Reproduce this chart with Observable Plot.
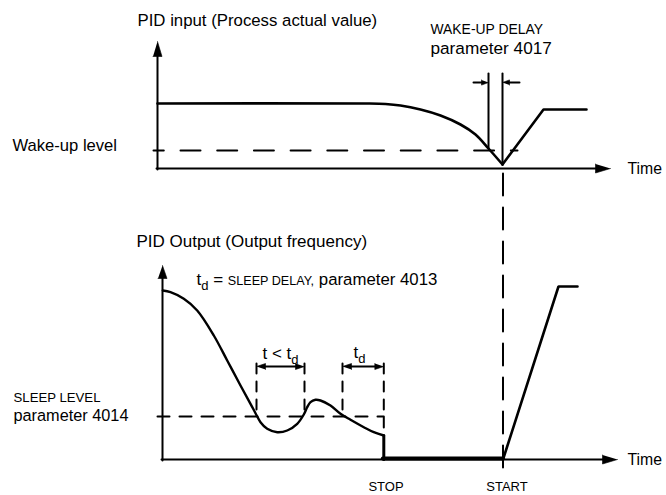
<!DOCTYPE html>
<html><head><meta charset="utf-8">
<script src="https://cdn.jsdelivr.net/npm/d3@7"></script>
<script src="https://cdn.jsdelivr.net/npm/@observablehq/plot@0.6"></script>
<style>body{margin:0;background:#fff}svg{display:block}</style>
</head><body><div id="chart"></div>
<script>
// ---- Data (figure frame: x = time position, y = level position, both in figure units) ----
// Upper panel: PID input (process actual value)
const pidInputX = [157, 365, 385, 400, 420, 440, 460, 475, 488, 502];
const pidInputY = [103, 103, 103.5, 105, 109, 115, 124, 134, 148, 164];
const pidInputRecoveryX = [502, 543, 586];
const pidInputRecoveryY = [164, 109, 109];
const wakeUpLevel = 150;
const wakeUpDelayStart = 488, wakeUpDelayEnd = 502;

// Lower panel: PID output (output frequency)
const pidOutputX = [162.3,170,183.3,196.7,213.3,226.7,240,250,255,260,266.7,276.7,286.7,296.7,303.3,306.7,310,315,320,330,340,350,363.3,373.3,383.3];
const pidOutputY = [290,291.7,298.3,310,335,360,385,403.3,412.7,421.7,428.3,431.7,430,423.3,414,406.7,401.7,399.3,400,405,413.3,419.3,426.7,431.7,435];
const sleepLevel = 416;
const stopTime = 383.3, startTime = 502.5, rampEndTime = 558, rampEndLevel = 286, holdEndTime = 577;
const delayWindows = [[256, 304], [342, 383.3]];   // t < td, td

// Axis frames
const topPanel = {x0: 157, y0: 168, yTop: 41, xEnd: 610};
const botPanel = {x0: 162, y0: 459, yTop: 265, xEnd: 617};

// Texts
const texts = ["PID input (Process actual value)", "WAKE-UP DELAY", "parameter 4017", "Wake-up level", "Time",
               "PID Output (Output frequency)", "SLEEP LEVEL", "parameter 4014", "Time", "STOP", "START"];

// ---- helpers ----
const rows = (id, xs, ys) => xs.map((x, i) => ({id, x, y: ys[i]}));
const seg = (id, a, b) => [{id, x: a[0], y: a[1]}, {id, x: b[0], y: b[1]}];
function head(id, tip, dir, len, half) {
  const [tx, ty] = tip, [dx, dy] = dir;
  const bx = tx - dx * len, by = ty - dy * len, px = -dy, py = dx;
  return [[tx, ty], [bx + px * half, by + py * half], [bx - px * half, by - py * half]].map(([x, y]) => ({id, x, y}));
}
const FONT = "Liberation Sans, Arial, Helvetica, sans-serif";
const ctx = document.createElement("canvas").getContext("2d");
function measure(s, size) { ctx.font = `${size}px "Liberation Sans", Arial, sans-serif`; return ctx.measureText(s).width; }
function run(x0, base, parts) {
  let x = x0; const out = [];
  for (const [s, size, shift = 0] of parts) {
    const lead = s.match(/^\s*/)[0];
    out.push({text: s.trim(), x: x + measure(lead, size), y: base + shift, size});
    x += measure(s, size);
  }
  return out;
}

// ---- geometry built from data ----
const axisLines = [
  ...seg("tY", [topPanel.x0, topPanel.y0 + 1], [topPanel.x0, topPanel.yTop + 12]),
  ...seg("tX", [topPanel.x0 - 1, topPanel.y0], [topPanel.xEnd - 12, topPanel.y0]),
  ...seg("bY", [botPanel.x0, botPanel.y0 + 1], [botPanel.x0, botPanel.yTop + 10]),
  ...seg("bX", [botPanel.x0 - 1, botPanel.y0], [botPanel.xEnd - 12, botPanel.y0])
];
const heads = [
  ...head("h1", [topPanel.x0, topPanel.yTop], [0, -1], 15, 4.5),
  ...head("h2", [topPanel.xEnd, topPanel.y0], [1, 0], 15, 4.5),
  ...head("h3", [botPanel.x0, botPanel.yTop], [0, -1], 13, 4.5),
  ...head("h4", [botPanel.xEnd, botPanel.y0], [1, 0], 15, 4.5),
  ...head("h5", [wakeUpDelayStart, 82], [1, 0], 7, 2.6),
  ...head("h6", [wakeUpDelayEnd, 82], [-1, 0], 7, 2.6),
  ...delayWindows.flatMap(([a, b], i) => [
    ...head("d" + i + "a", [a, 366], [-1, 0], 9, 3),
    ...head("d" + i + "b", [b, 366], [1, 0], 9, 3)])
];
const thinSolid = [
  ...seg("w1", [wakeUpDelayStart, 73], [wakeUpDelayStart, wakeUpLevel - 2]),
  ...seg("w2", [wakeUpDelayEnd, 73], [wakeUpDelayEnd, 164]),
  ...seg("w3", [473, 82], [wakeUpDelayStart - 5, 82]),
  ...seg("w4", [519, 82], [wakeUpDelayEnd + 5, 82]),
  ...delayWindows.flatMap(([a, b], i) => seg("dw" + i, [a + 6, 366], [b - 6, 366]))
];
const dashedWindows = [
  ...seg("v1", [256, 363], [256, 413]),
  ...seg("v2", [304, 363], [304, 413]),
  ...seg("v3", [342, 363], [342, sleepLevel]),
  ...seg("v4", [383.3, 363], [383.3, 435])
];
const marks = [
  Plot.line(axisLines, {x: "x", y: "y", z: "id", stroke: "black", strokeWidth: 2}),
  Plot.line(heads, {x: "x", y: "y", z: "id", fill: "black", stroke: "black", strokeWidth: 0.6, strokeLinejoin: "miter"}),
  Plot.line(thinSolid, {x: "x", y: "y", z: "id", stroke: "black", strokeWidth: 2}),
  // wake-up level dashed
  Plot.line(seg("wl", [153, wakeUpLevel], [517, wakeUpLevel]), {x: "x", y: "y", stroke: "black", strokeWidth: 2, strokeDasharray: "20,16.7", strokeDashoffset: 9.7}),
  // long dashed vertical wake-up / start marker
  Plot.line(seg("sv", [startTime, 173], [startTime, 474]), {x: "x", y: "y", stroke: "black", strokeWidth: 2, strokeDasharray: "22,12"}),
  // sleep level dashed
  Plot.line(seg("sl", [157, sleepLevel], [stopTime, sleepLevel]), {x: "x", y: "y", stroke: "black", strokeWidth: 2, strokeDasharray: "12,10"}),
  Plot.line(dashedWindows, {x: "x", y: "y", z: "id", stroke: "black", strokeWidth: 2, strokeDasharray: "10,8"}),
  // signals
  Plot.line(rows("in", pidInputX, pidInputY), {x: "x", y: "y", curve: "catmull-rom", stroke: "black", strokeWidth: 2.6}),
  Plot.line(rows("rec", pidInputRecoveryX, pidInputRecoveryY), {x: "x", y: "y", stroke: "black", strokeWidth: 2.6, strokeLinejoin: "miter"}),
  Plot.line(rows("out", pidOutputX, pidOutputY), {x: "x", y: "y", curve: "catmull-rom", stroke: "black", strokeWidth: 2.4}),
  Plot.line(seg("stop", [stopTime, 435], [stopTime, botPanel.y0]), {x: "x", y: "y", stroke: "black", strokeWidth: 3}),
  Plot.line(seg("zero", [stopTime - 1, botPanel.y0 - 1], [startTime, botPanel.y0 - 1]), {x: "x", y: "y", stroke: "black", strokeWidth: 4}),
  Plot.line(rows("ramp", [startTime, rampEndTime, holdEndTime], [botPanel.y0, rampEndLevel, rampEndLevel]), {x: "x", y: "y", stroke: "black", strokeWidth: 2.6, strokeLinejoin: "miter"})
];

// texts
const leftTexts = [
  {text: texts[0], x: 137, y: 25, size: 16.8},
  {text: texts[1], x: 430, y: 33, size: 13.9},
  {text: texts[2], x: 430, y: 53, size: 17.2},
  {text: texts[3], x: 12, y: 150, size: 16.6},
  {text: texts[4], x: 627, y: 173, size: 15.8},
  {text: texts[5], x: 136, y: 246, size: 17},
  {text: texts[6], x: 13, y: 401, size: 13.2},
  {text: texts[7], x: 13, y: 420, size: 16.3},
  {text: texts[8], x: 627, y: 464, size: 15.8},
  ...run(196, 284, [["t", 17], ["d", 13, 5.5], [" = ", 17], ["SLEEP DELAY,", 12.6], [" parameter 4013", 16.8]]),
  ...run(262, 358, [["t < t", 17], ["d", 13, 5.5]]),
  ...run(353, 357, [["t", 17], ["d", 13, 5.5]])
];
const midTexts = [
  {text: texts[9], x: 385.5, y: 490, size: 13},
  {text: texts[10], x: 506.5, y: 490, size: 13}
];
marks.push(
  Plot.text(leftTexts, {x: "x", y: "y", text: "text", fontSize: "size", textAnchor: "start", lineAnchor: "bottom", fill: "black", fontFamily: FONT}),
  Plot.text(midTexts, {x: "x", y: "y", text: "text", fontSize: "size", textAnchor: "middle", lineAnchor: "bottom", fill: "black", fontFamily: FONT})
);

const chart = Plot.plot({
  width: 666, height: 495, margin: 0,
  x: {type: "linear", domain: [0, 666], range: [0, 666], axis: null},
  y: {type: "linear", domain: [0, 495], range: [0, 495], axis: null},
  style: {background: "white", fontFamily: FONT},
  marks
});
document.getElementById("chart").append(chart);
</script>
</body></html>
